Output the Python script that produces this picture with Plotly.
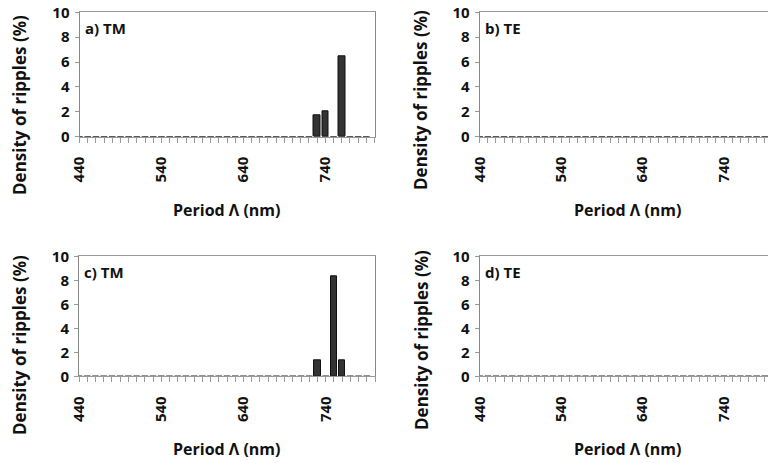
import plotly.graph_objects as go

# ---- data ----
categories = list(range(440, 800, 10))  # Period (nm)
panel_labels = ["a) TM", "b) TE", "c) TM", "d) TE"]
tm_top = {730: 1.75, 740: 2.05, 760: 6.45}
tm_bottom = {730: 1.3, 750: 8.35, 760: 1.35}
te_top = {}
te_bottom = {}
series = [tm_top, te_top, tm_bottom, te_bottom]
xtick_vals = [440, 540, 640, 740]
ytick_vals = [0, 2, 4, 6, 8, 10]

W, H = 768, 463
FONT = "Open Sans"
BAR_W = 8


def px(x):
    return x / W


def py(y):
    return 1 - y / H


fig = go.Figure()

# plot-area geometry in window pixels: (left, right, top, bottom)
boxes = [
    (79.5, 374.5, 12.3, 136.7),
    (479.7, 768.0, 12.3, 136.7),
    (79.0, 375.0, 256.3, 376.3),
    (479.7, 768.0, 256.3, 376.3),
]
xranges = [[440, 800], [440, 794], [440, 800], [440, 794]]
ytitle_pos = [(19, 105), (421, 100), (19, 345), (421, 340)]
xtitle_pos = [(226, 210), (627, 210), (226, 449), (627, 449)]

for i, (vals, box) in enumerate(zip(series, boxes)):
    n = i + 1
    xa = "x" if n == 1 else f"x{n}"
    ya = "y" if n == 1 else f"y{n}"
    ys = [vals.get(c, 0) for c in categories]
    nz_x = [c for c in categories if vals.get(c, 0) > 0]
    nz_y = [vals[c] for c in nz_x]
    # zero-height bars drawn as short dashes on the baseline
    seg_x, seg_y = [], []
    for c, v in zip(categories, ys):
        seg_x += [c - BAR_W / 2, c + BAR_W / 2, None]
        seg_y += [0, 0, None]
    fig.add_trace(go.Scatter(x=seg_x, y=seg_y, mode="lines",
                             line=dict(color="#222222", width=1.6),
                             xaxis=xa, yaxis=ya, showlegend=False, hoverinfo="skip"))
    fig.add_trace(go.Bar(x=nz_x, y=nz_y, width=BAR_W,
                         marker=dict(color="#333333", line=dict(color="#111111", width=1)),
                         xaxis=xa, yaxis=ya, showlegend=False))

    l, r, t, b = box
    xdom = [px(l), min(px(r), 1.0)]
    ydom = [py(b), py(t)]
    right_panel = (n % 2 == 0)
    xkey = "xaxis" if n == 1 else f"xaxis{n}"
    ykey = "yaxis" if n == 1 else f"yaxis{n}"
    fig.update_layout(**{
        xkey: dict(domain=xdom, anchor=ya, range=xranges[i], automargin=False,
                   tickmode="array", tickvals=xtick_vals,
                   ticks="outside", ticklen=5, tickcolor="#999999", tickwidth=1,
                   minor=dict(dtick=10, tick0=440, ticks="outside", ticklen=5,
                              tickcolor="#999999", tickwidth=1, showgrid=False),
                   tickangle=-90, ticklabelstandoff=8, ticklabeloverflow="allow",
                   tickfont=dict(family=FONT, size=15, color="#111111", weight="bold"),
                   showline=True, linecolor="#999999", linewidth=1, mirror=True,
                   showgrid=False, zeroline=False),
        ykey: dict(domain=ydom, anchor=xa, range=[0, 10], automargin=False,
                   tickmode="array", tickvals=ytick_vals,
                   ticks="outside", ticklen=4, tickcolor="#999999",
                   ticklabelstandoff=2, ticklabeloverflow="allow",
                   tickfont=dict(family=FONT, size=15, color="#111111", weight="bold"),
                   showline=True, linecolor="#888888", linewidth=1,
                   mirror=(not right_panel),
                   showgrid=False, zeroline=False),
    })
    # panel label
    fig.add_annotation(x=px(l + 3), y=py(t + 16), xref="paper", yref="paper",
                       text=f"<b>{panel_labels[i]}</b>", showarrow=False,
                       xanchor="left", yanchor="middle",
                       font=dict(family=FONT, size=15, color="#111111"))
    # y title
    yx, yy = ytitle_pos[i]
    fig.add_annotation(x=px(yx), y=py(yy), xref="paper", yref="paper",
                       text="<b>Density of ripples (%)</b>", textangle=-90,
                       showarrow=False, xanchor="center", yanchor="middle",
                       font=dict(family=FONT, size=17, color="#111111"))
    # x title
    tx, ty = xtitle_pos[i]
    fig.add_annotation(x=px(tx), y=py(ty), xref="paper", yref="paper",
                       text="<b>Period Λ (nm)</b>", showarrow=False,
                       xanchor="center", yanchor="middle",
                       font=dict(family=FONT, size=16, color="#111111"))

fig.update_layout(width=W, height=H, margin=dict(l=0, r=0, t=0, b=0),
                  plot_bgcolor="white", paper_bgcolor="white",
                  bargap=0, showlegend=False, hovermode=False)

fig.write_html("out.html",
               config={"displayModeBar": False},
               post_script="document.body.style.margin='0';"
                           "document.body.style.overflow='hidden';")
